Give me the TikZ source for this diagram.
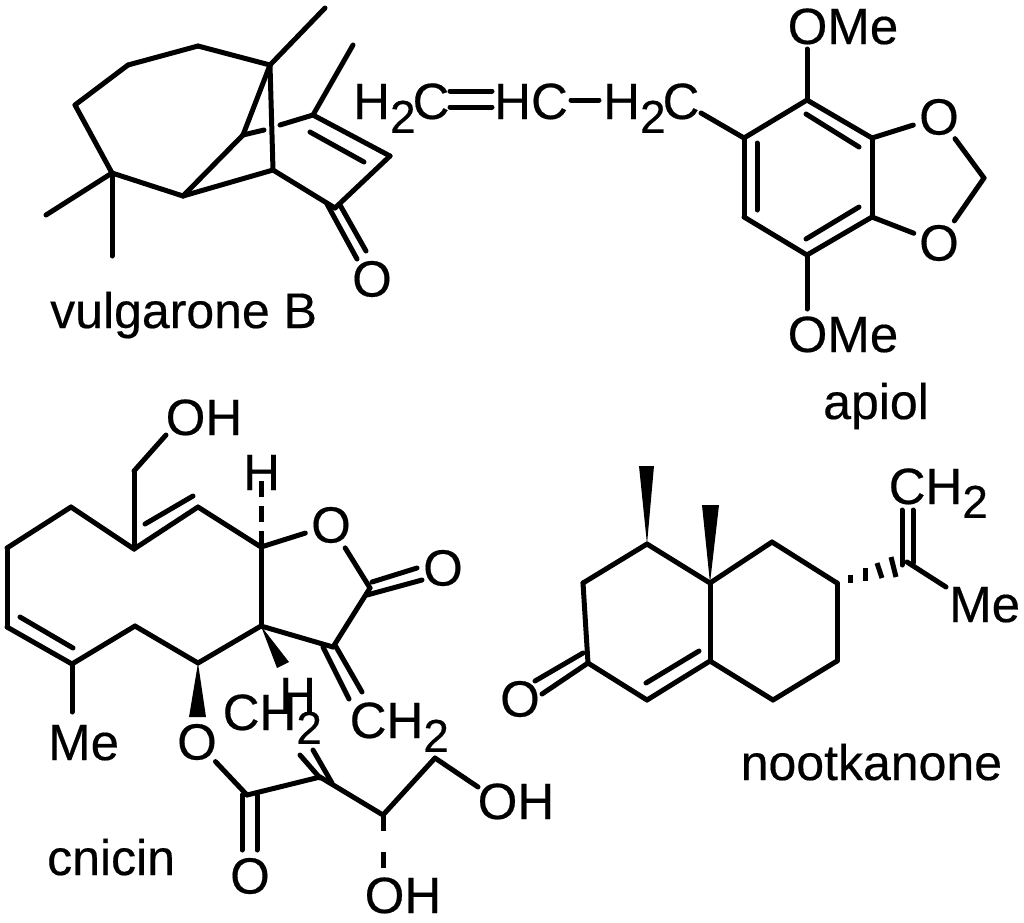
\documentclass[tikz,border=0pt]{standalone}
\usepackage{fontspec}
\setmainfont{Liberation Sans}[FakeBold=0.35]
\newcommand{\subtwo}{\raisebox{-0.27em}{\fontsize{46}{46}\selectfont 2}}
\tikzset{
    bond/.style={line width=5pt,line cap=round,line join=round},
    hashbond/.style={line width=5pt},
    atom/.style={inner sep=0pt,anchor=base west,font=\fontsize{51}{60}\selectfont},
    oxy/.style={circle,inner sep=0pt,minimum size=50pt,font=\fontsize{51}{60}\selectfont},
    molname/.style={inner sep=0pt,anchor=base west,font=\fontsize{50}{60}\selectfont},
}

\begin{document}
\begin{tikzpicture}[x=1pt,y=-1pt]

    \useasboundingbox (0,0) rectangle (1024,922);

    \node(vulgarone)[molname] at (50,328){vulgarone B};
    \node(apiol)[molname] at (823,419){apiol};
    \node(cnicin)[molname] at (47,875){cnicin};
    \node(nootkanone)[molname] at (740.5,780){nootkanone};

    \coordinate(v1) at (270,65);
    \coordinate(v2) at (198,46);
    \coordinate(v3) at (128,65);
    \coordinate(v4) at (75,105);
    \coordinate(v5) at (112,173);
    \coordinate(v6) at (183,196);
    \coordinate(v7) at (243,135);
    \coordinate(v8) at (273,170);
    \coordinate(v9) at (313,115);
    \coordinate(v10) at (390,156);
    \coordinate(v11) at (335,208);
    \coordinate(vme1) at (325,8);
    \coordinate(vme2) at (353,45);
    \coordinate(vme3) at (46,215);
    \coordinate(vme4) at (112,256);
    \coordinate(vgap1) at (264,130);
    \coordinate(vgap2) at (280,125);
    \coordinate(vin1) at (310,132);
    \coordinate(vin2) at (364,162);
    \coordinate(vco1) at (327,204);
    \coordinate(vco2) at (357,259);
    \coordinate(vco3) at (340,205);
    \coordinate(vco4) at (366,251);
    \node(vo)[oxy] at (372,279){O};

    \draw (v1) edge[bond] (v2)
          (v2) edge[bond] (v3)
          (v3) edge[bond] (v4)
          (v4) edge[bond] (v5)
          (v5) edge[bond] (v6)
          (v6) edge[bond] (v7)
          (v6) edge[bond] (v8)
          (v7) edge[bond] (v1)
          (v1) edge[bond] (v8)
          (v7) edge[bond] (vgap1)
          (vgap2) edge[bond] (v9)
          (v9) edge[bond] (v10)
          (v10) edge[bond] (v11)
          (v11) edge[bond] (v8)
          (v1) edge[bond] (vme1)
          (v9) edge[bond] (vme2)
          (v5) edge[bond] (vme3)
          (v5) edge[bond] (vme4)
          (vin1) edge[bond] (vin2)
          (vco1) edge[bond] (vco2)
          (vco3) edge[bond] (vco4)
          ;

    \node(h2ca)[atom] at (353,119){H\subtwo\kern-3pt C};
    \node(hc)[atom] at (494,119){HC};
    \node(h2cb)[atom] at (603,119){H\subtwo\kern-3pt C};
    \coordinate(da) at (450,91);
    \coordinate(db) at (492,91);
    \coordinate(dc) at (450,107);
    \coordinate(dd) at (492,107);
    \coordinate(de) at (571,100);
    \coordinate(df) at (599,100);
    \coordinate(dg) at (701,113);

    \coordinate(a1) at (807,100);
    \coordinate(a2) at (872,138);
    \coordinate(a3) at (872,217);
    \coordinate(a4) at (807,255);
    \coordinate(a5) at (744,217);
    \coordinate(a6) at (744,138);
    \coordinate(a7) at (984,178);
    \coordinate(ain1) at (806,114);
    \coordinate(ain2) at (859,147);
    \coordinate(ain3) at (859,207);
    \coordinate(ain4) at (806,239);
    \coordinate(ain5) at (757,143);
    \coordinate(ain6) at (757,210);
    \coordinate(aome1) at (807,49);
    \coordinate(aome2) at (807,309);
    \node(omea)[atom] at (787.5,44){OMe};
    \node(omeb)[atom] at (787.5,352){OMe};
    \node(oa)[oxy] at (939,117){O};
    \node(ob)[oxy] at (939,243){O};

    \draw (da) edge[bond] (db)
          (dc) edge[bond] (dd)
          (de) edge[bond] (df)
          (dg) edge[bond] (a6)
          (a1) edge[bond] (a2)
          (a2) edge[bond] (a3)
          (a3) edge[bond] (a4)
          (a4) edge[bond] (a5)
          (a5) edge[bond] (a6)
          (a6) edge[bond] (a1)
          (ain1) edge[bond] (ain2)
          (ain3) edge[bond] (ain4)
          (ain5) edge[bond] (ain6)
          (a1) edge[bond] (aome1)
          (a4) edge[bond] (aome2)
          (a2) edge[bond] (oa)
          (a3) edge[bond] (ob)
          (oa) edge[bond] (a7)
          (ob) edge[bond] (a7)
          ;

    \coordinate(c1) at (134,549);
    \coordinate(c2) at (198,507);
    \coordinate(c3) at (261,547);
    \coordinate(c4) at (261,626);
    \coordinate(c5) at (198,663);
    \coordinate(c6) at (135,626);
    \coordinate(c7) at (72,664);
    \coordinate(c8) at (7,627);
    \coordinate(c9) at (7,548);
    \coordinate(c10) at (71,507);
    \coordinate(c11) at (370,588);
    \coordinate(c12) at (333,647);
    \coordinate(cin1) at (145,524);
    \coordinate(cin2) at (193,496);
    \coordinate(cin3) at (20,617);
    \coordinate(cin4) at (73,648);
    \coordinate(cch) at (134,471);
    \coordinate(coh) at (166,435);
    \coordinate(cha) at (261,480);
    \coordinate(cme) at (72,712);
    \coordinate(cco1) at (372,582);
    \coordinate(cco2) at (417,568);
    \coordinate(cco3) at (367,595);
    \coordinate(cco4) at (422,580);
    \coordinate(cex1) at (323,647);
    \coordinate(cex2) at (349,699);
    \coordinate(cex3) at (335,645);
    \coordinate(cex4) at (362,692);
    \coordinate(cw1) at (277,668);
    \coordinate(cw2) at (289,662);
    \coordinate(cw3) at (189,717);
    \coordinate(cw4) at (206,717);

    \coordinate(e1) at (247,795);
    \coordinate(e2) at (320,777);
    \coordinate(e3) at (383,815);
    \coordinate(e4) at (435,758);
    \coordinate(e5) at (478,787);
    \coordinate(e6) at (383,869);
    \coordinate(ed1) at (242,795);
    \coordinate(ed2) at (242,850);
    \coordinate(ed3) at (257,795);
    \coordinate(ed4) at (257,850);
    \coordinate(ed5) at (300,755);
    \coordinate(ed6) at (320,778);
    \coordinate(ed7) at (313,750);
    \coordinate(ed8) at (332,783);

    \node(oh1)[atom] at (165.5,435){OH};
    \node(h1)[atom] at (243,490){H};
    \node(h2)[atom] at (279,713){H};
    \node(ch2a)[atom] at (349.5,738){CH\subtwo};
    \node(ch2b)[atom] at (222.5,730){CH\subtwo};
    \node(oh2)[atom] at (477.5,819){OH};
    \node(oh3)[atom] at (364.5,913){OH};
    \node(me1)[atom] at (48,760){Me};
    \node(oc)[oxy] at (331,525){O};
    \node(od)[oxy] at (443,568){O};
    \node(oe)[oxy] at (197,742){O};
    \node(of)[oxy] at (250,876){O};

    \draw (c1) edge[bond] (c2)
          (c2) edge[bond] (c3)
          (c3) edge[bond] (c4)
          (c4) edge[bond] (c5)
          (c5) edge[bond] (c6)
          (c6) edge[bond] (c7)
          (c7) edge[bond] (c8)
          (c8) edge[bond] (c9)
          (c9) edge[bond] (c10)
          (c10) edge[bond] (c1)
          (cin1) edge[bond] (cin2)
          (cin3) edge[bond] (cin4)
          (c1) edge[bond] (cch)
          (cch) edge[bond] (coh)
          (c7) edge[bond] (cme)
          (c3) edge[bond] (oc)
          (oc) edge[bond] (c11)
          (c11) edge[bond] (c12)
          (c12) edge[bond] (c4)
          (cco1) edge[bond] (cco2)
          (cco3) edge[bond] (cco4)
          (cex1) edge[bond] (cex2)
          (cex3) edge[bond] (cex4)
          (oe) edge[bond] (e1)
          (e1) edge[bond] (e2)
          (e2) edge[bond] (e3)
          (e3) edge[bond] (e4)
          (e4) edge[bond] (e5)
          (ed1) edge[bond] (ed2)
          (ed3) edge[bond] (ed4)
          (ed5) edge[bond] (ed6)
          (ed7) edge[bond] (ed8)
          ;
    \draw[hashbond,dash pattern=on 16pt off 9pt] (c3) -- (cha);
    \draw[hashbond,dash pattern=on 16pt off 21pt] (e3) -- (e6);
    \fill (c4) -- (cw1) -- (cw2) -- cycle;
    \fill (c5) -- (cw3) -- (cw4) -- cycle;

    \coordinate(n1) at (647,544);
    \coordinate(n2) at (710,583);
    \coordinate(n3) at (772,542);
    \coordinate(n4) at (837,583);
    \coordinate(n5) at (837,661);
    \coordinate(n6) at (773,700);
    \coordinate(n7) at (710,661);
    \coordinate(n8) at (647,700);
    \coordinate(n9) at (588,663);
    \coordinate(n10) at (583,583);
    \coordinate(nin1) at (646,683);
    \coordinate(nin2) at (699,651);
    \coordinate(nco1) at (583,653);
    \coordinate(nco2) at (535,681);
    \coordinate(nco3) at (588,663);
    \coordinate(nco4) at (542,694);
    \coordinate(nw1) at (639,466);
    \coordinate(nw2) at (654,466);
    \coordinate(nw3) at (702,505);
    \coordinate(nw4) at (719,505);
    \coordinate(nc) at (907,562);
    \coordinate(nme) at (946,587);
    \coordinate(nd1) at (902,510);
    \coordinate(nd2) at (902,565);
    \coordinate(nd3) at (913,510);
    \coordinate(nd4) at (913,563);
    \coordinate(nh1) at (850,575);
    \coordinate(nh2) at (850,583);
    \coordinate(nh3) at (865,568);
    \coordinate(nh4) at (865,581);
    \coordinate(nh5) at (877,563);
    \coordinate(nh6) at (882,578);
    \coordinate(nh7) at (891,557);
    \coordinate(nh8) at (896,577);
    \node(ng)[oxy] at (520,699){O};
    \node(ch2c)[atom] at (888.5,504){CH\subtwo};
    \node(me2)[atom] at (949,622){Me};

    \draw (n1) edge[bond] (n2)
          (n2) edge[bond] (n3)
          (n3) edge[bond] (n4)
          (n4) edge[bond] (n5)
          (n5) edge[bond] (n6)
          (n6) edge[bond] (n7)
          (n7) edge[bond] (n2)
          (n7) edge[bond] (n8)
          (n8) edge[bond] (n9)
          (n9) edge[bond] (n10)
          (n10) edge[bond] (n1)
          (nin1) edge[bond] (nin2)
          (nco1) edge[bond] (nco2)
          (nco3) edge[bond] (nco4)
          (nc) edge[bond] (nme)
          (nd1) edge[bond] (nd2)
          (nd3) edge[bond] (nd4)
          ;
    \draw (nh1) edge[hashbond] (nh2)
          (nh3) edge[hashbond] (nh4)
          (nh5) edge[hashbond] (nh6)
          (nh7) edge[hashbond] (nh8)
          ;
    \fill (n1) -- (nw1) -- (nw2) -- cycle;
    \fill (n2) -- (nw3) -- (nw4) -- cycle;

\end{tikzpicture}
\end{document}
